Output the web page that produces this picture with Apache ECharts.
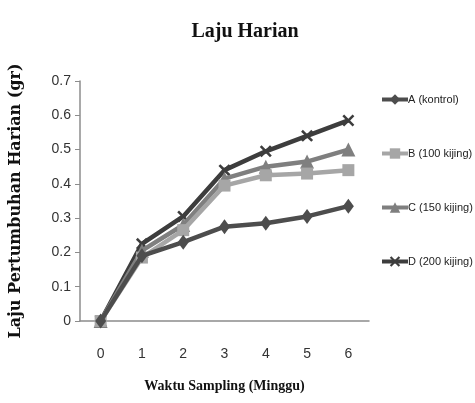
<!DOCTYPE html>
<html><head><meta charset="utf-8">
<script src="https://cdn.jsdelivr.net/npm/echarts@6/dist/echarts.min.js"></script>
<style>html,body{margin:0;padding:0;background:#fff}#c{width:475px;height:403px}</style>
</head><body><div id="c"></div>
<script>
const categories = ['0','1','2','3','4','5','6'];
const seriesNames = ['A (kontrol)','B (100 kijing)','C (150 kijing)','D (200 kijing)'];
const valuesA = [0, 0.19, 0.23, 0.275, 0.285, 0.305, 0.335];
const valuesB = [0, 0.185, 0.265, 0.395, 0.425, 0.43, 0.44];
const valuesC = [0, 0.205, 0.28, 0.415, 0.45, 0.465, 0.50];
const valuesD = [0, 0.225, 0.305, 0.44, 0.495, 0.54, 0.585];
const yTicks = [0, 0.1, 0.2, 0.3, 0.4, 0.5, 0.6, 0.7];

const xSym = 'path://M0,1.5L1.5,0L5,3.5L8.5,0L10,1.5L6.5,5L10,8.5L8.5,10L5,6.5L1.5,10L0,8.5L3.5,5Z';
const styles = [
  {color:'#4d4d4d', symbol:'diamond', size:[11,15]},
  {color:'#a6a6a6', symbol:'rect', size:12},
  {color:'#7f7f7f', symbol:'triangle', size:14},
  {color:'#3d3d3d', symbol:xSym, size:12}
];
const data = [valuesA, valuesB, valuesC, valuesD];
const lblFont = '"Liberation Sans", sans-serif';

const chart = echarts.init(document.getElementById('c'), null, {renderer:'canvas'});
chart.setOption({
  animation:false,
  backgroundColor:'#fff',
  title:{text:'Laju Harian', left:240, textAlign:'center', top:17,
    textStyle:{fontFamily:'"Liberation Serif", serif', fontWeight:'bold', fontSize:20, color:'#111'}},
  grid:{left:80, right:106, top:81, bottom:82},
  legend:{
    orient:'vertical', left:375, top:89, itemGap:43, itemWidth:26, itemHeight:13,
    data: seriesNames,
    lineStyle:{width:4},
    textStyle:{fontFamily:lblFont, fontSize:11, color:'#222', padding:[0,0,0,-5]}
  },
  xAxis:{
    type:'category', data:categories, boundaryGap:true,
    name:'Waktu Sampling (Minggu)', nameLocation:'middle', nameGap:58,
    nameTextStyle:{fontFamily:'"Liberation Serif", serif', fontWeight:'bold', fontSize:14, color:'#111'},
    axisLine:{lineStyle:{color:'#8c8c8c', width:1.5}},
    axisTick:{show:false},
    axisLabel:{fontFamily:lblFont, fontSize:14, color:'#333', margin:26}
  },
  yAxis:{
    type:'value', min:0, max:0.7, interval:0.1,
    name:'Laju Pertumbuhan Harian (gr)', nameLocation:'middle', nameGap:56,
    nameTextStyle:{fontFamily:'"DejaVu Serif", serif', fontWeight:'bold', fontSize:16, color:'#111'},
    splitLine:{show:false},
    axisLine:{show:true, lineStyle:{color:'#8c8c8c', width:1.5}},
    axisTick:{show:true, inside:false, length:5, lineStyle:{color:'#8c8c8c'}},
    axisLabel:{fontFamily:lblFont, fontSize:14, color:'#333', margin:9,
      formatter: v => { const t = yTicks.find(x => Math.abs(x - v) < 1e-9); return t === 0 ? '0' : String(t); }}
  },
  series: seriesNames.map((n,i) => ({
    name:n, type:'line', data:data[i],
    symbol:styles[i].symbol, symbolSize:styles[i].size, showSymbol:true,
    lineStyle:{color:styles[i].color, width:4.5},
    itemStyle:{color:styles[i].color},
    z: 10 - i
  }))
});
</script></body></html>
